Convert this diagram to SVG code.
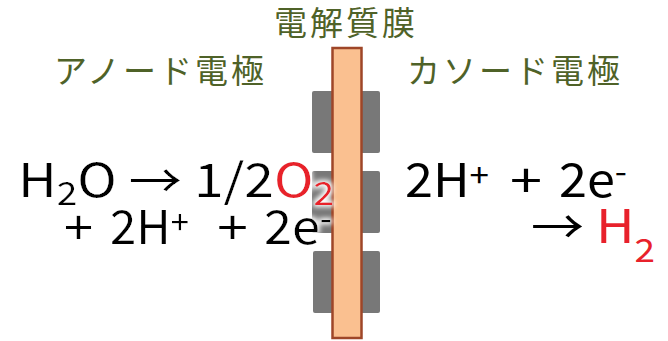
<svg xmlns="http://www.w3.org/2000/svg" width="668" height="341" viewBox="0 0 668 341">
<defs>
<style>
.lbl{font-family:"Noto Sans CJK JP","Noto Sans CJK SC",sans-serif;font-size:33px;fill:#4F6228;letter-spacing:3px}
.eq{font-family:"Noto Sans CJK JP","Liberation Sans",sans-serif;font-size:46px;fill:#000}
.sm{font-size:32px}
.red{fill:#E8212B}
.pad{fill:#787878}
</style>
<filter id="glow" x="-20%" y="-20%" width="140%" height="140%">
<feMorphology in="SourceAlpha" operator="dilate" radius="2" result="d"/>
<feGaussianBlur in="d" stdDeviation="2.5" result="b"/>
<feFlood flood-color="#fff"/>
<feComposite in2="b" operator="in" result="w"/>
<feMerge><feMergeNode in="w"/><feMergeNode in="SourceGraphic"/></feMerge>
</filter>
</defs>
<g id="pads">
<rect class="pad" x="312" y="91" width="68" height="62" rx="2"/>
<rect class="pad" x="312" y="171" width="68" height="62" rx="2"/>
<rect class="pad" x="313" y="251" width="67" height="62" rx="2"/>
</g>
<g id="membrane">
<rect x="332.5" y="48" width="29" height="290" fill="#FAC090" stroke="#9E4628" stroke-width="2.5"/>
</g>
<g id="labels">
<text class="lbl" x="274" y="35">電解質膜</text>
<text class="lbl" x="54" y="83">アノード電極</text>
<text class="lbl" x="407" y="83">カソード電極</text>
</g>
<g id="anode-eq" filter="url(#glow)">
<text class="eq" x="18" y="197" textLength="316" lengthAdjust="spacingAndGlyphs">H<tspan class="sm" dy="8">2</tspan><tspan dy="-8">O → 1/2</tspan><tspan class="red">O</tspan><tspan class="sm red" dy="8">2</tspan></text>
<text class="eq" x="64" y="244" textLength="29" lengthAdjust="spacingAndGlyphs">+</text>
<text class="eq" x="110" y="244" textLength="79" lengthAdjust="spacingAndGlyphs">2H<tspan class="sm" dy="-10">+</tspan></text>
<text class="eq" x="217" y="244" textLength="31" lengthAdjust="spacingAndGlyphs">+</text>
<text class="eq" x="264" y="244" textLength="68" lengthAdjust="spacingAndGlyphs">2e<tspan class="sm" dy="-14">-</tspan></text>
</g>
<g id="cathode-eq">
<text class="eq" x="405" y="197" textLength="84" lengthAdjust="spacingAndGlyphs">2H<tspan class="sm" dy="-10">+</tspan></text>
<text class="eq" x="510" y="197" textLength="32" lengthAdjust="spacingAndGlyphs">+</text>
<text class="eq" x="559" y="197" textLength="68" lengthAdjust="spacingAndGlyphs">2e<tspan class="sm" dy="-14">-</tspan></text>
<text class="eq" x="531" y="243" textLength="124" lengthAdjust="spacingAndGlyphs">→ <tspan class="red">H</tspan><tspan class="sm red" dy="19">2</tspan></text>
</g>
</svg>
